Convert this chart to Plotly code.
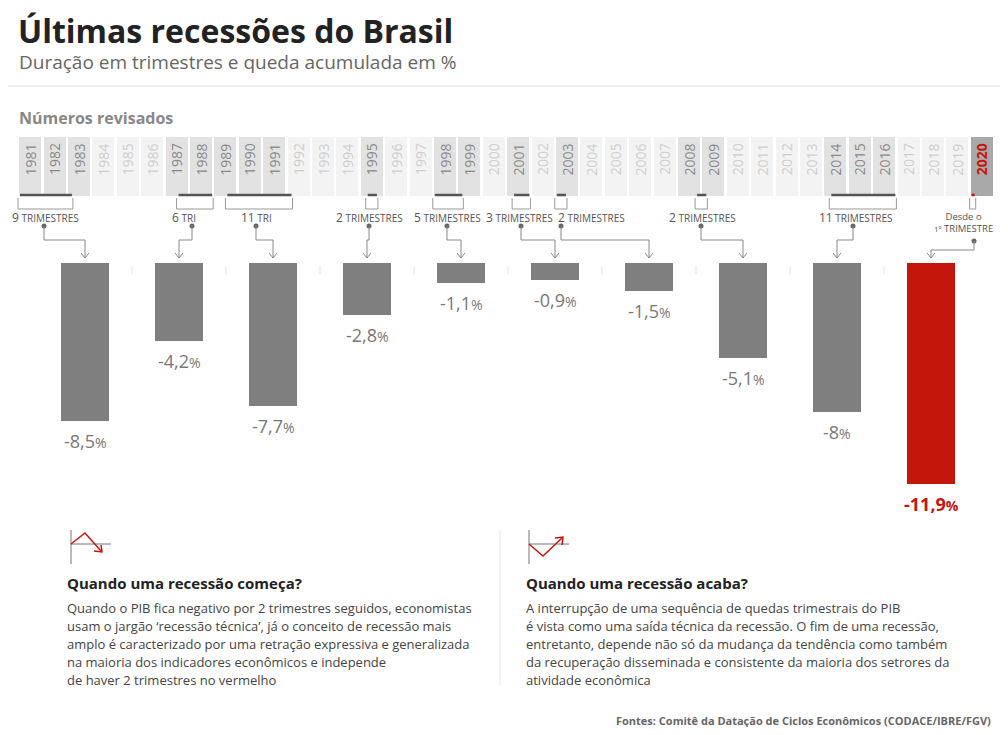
import plotly.graph_objects as go

W, H = 992, 719   # figure size; page adds 8px body margin
OFF = 8
years = list(range(1981, 2021))
recession_years = [1981,1982,1983,1987,1988,1989,1990,1991,1995,1998,1999,2001,2003,2008,2009,2014,2015,2016,2020]
values = [-8.5, -4.2, -7.7, -2.8, -1.1, -0.9, -1.5, -5.1, -8.0, -11.9]
value_labels = ["-8,5", "-4,2", "-7,7", "-2,8", "-1,1", "-0,9", "-1,5", "-5,1", "-8", "-11,9"]
rec_start = [1981.0, 1987.5, 1989.5, 1995.25, 1998.0, 2001.25, 2003.0, 2008.75, 2014.25, 2020.0]
rec_end = [1983.25, 1989.0, 1992.25, 1995.75, 1999.25, 2002.0, 2003.5, 2009.25, 2017.0, 2020.25]
dur_num = ["9", "6", "11", "2", "5", "3", "2", "2", "11", ""]
dur_word = ["TRIMESTRES", "TRI", "TRI", "TRIMESTRES", "TRIMESTRES", "TRIMESTRES", "TRIMESTRES", "TRIMESTRES", "TRIMESTRES", ""]

def px(x): return (x - OFF) / W
def py(y): return 1 - (y - OFF) / H

cell_w = 24.4; strip_x0 = 18
def year_px(yv): return strip_x0 + (yv - 1981) * cell_w
bar_c0, bar_step = 85, 94
pxpp = 18.6
base_y, bot_y = 263, 510

fig = go.Figure()
cols = []
for y in years:
    if y == 2020: cols.append("#a9a9a9")
    elif y in recession_years: cols.append("#e2e2e2")
    else: cols.append("#f3f3f3")
fig.add_trace(go.Bar(x=[y + 0.5 for y in years], y=[1]*len(years), marker=dict(color=cols, line=dict(width=0)),
                     width=0.9, xaxis="x3", yaxis="y3", hoverinfo="skip"))
fig.add_trace(go.Bar(x=list(range(len(values))), y=values, width=48/bar_step,
                     marker=dict(color=["#7f7f7f"]*9 + ["#c4170c"], line=dict(width=0)),
                     xaxis="x2", yaxis="y2", hoverinfo="skip"))

ann = []
shapes = []
def A(x, y, text, size, color, xanchor="center", bold=False, **kw):
    ann.append(dict(x=px(x), y=py(y), xref="paper", yref="paper", xanchor=xanchor, yanchor="middle",
                    showarrow=False, text=text,
                    font=dict(size=size, color=color, family="Open Sans", weight="bold" if bold else "normal"), **kw))

for y in years:
    c = "#c4170c" if y == 2020 else ("#8a8a8a" if y in recession_years else "#cfcfcf")
    ann.append(dict(x=y + 0.5, y=0.62, xref="x3", yref="y3", xanchor="center", yanchor="middle",
                    text=str(y), textangle=-90, showarrow=False,
                    font=dict(size=14, color=c, family="Open Sans", weight="bold" if y == 2020 else "normal")))
strip_top, strip_bot = 137, 196
for i, (s, e) in enumerate(zip(rec_start, rec_end)):
    col = "#c4170c" if i == 9 else "#555"
    shapes.append(dict(type="line", xref="paper", yref="paper", x0=px(year_px(s)+2), x1=px(year_px(e)-1),
                       y0=py(195), y1=py(195), line=dict(color=col, width=2.5)))
    shapes.append(dict(type="path", xref="paper", yref="paper",
                       path=f"M {px(year_px(s))} {py(198)} L {px(year_px(s))} {py(209)} L {px(year_px(e))} {py(209)} L {px(year_px(e))} {py(198)}",
                       line=dict(color="#999", width=1)))

label_x = [45, 184, 256, 369, 447, 519, 591, 702, 856, 963]
dot_x = [44, 192, 256, 369, 447, 521, 561, 701, 853, 974]
for i in range(10):
    bx = bar_c0 + bar_step * i
    if i < 9:
        A(label_x[i], 217, f"<span style='font-size:12px'>{dur_num[i]}</span> {dur_word[i]}", 10, "#555")
        dy, hy = 226, 240
    else:
        A(label_x[i], 222, "Desde o<br><span style='font-size:8px'>1º</span> TRIMESTRE", 9.5, "#555")
        dy, hy = 241, 250
    shapes.append(dict(type="circle", xref="paper", yref="paper", x0=px(dot_x[i]-2.5), x1=px(dot_x[i]+2.5),
                       y0=py(dy-2.5), y1=py(dy+2.5), fillcolor="#666", line=dict(width=0)))
    shapes.append(dict(type="path", xref="paper", yref="paper",
                       path=f"M {px(dot_x[i])} {py(dy)} L {px(dot_x[i])} {py(hy)} L {px(bx)} {py(hy)} L {px(bx)} {py(258)}",
                       line=dict(color="#888", width=1)))
    shapes.append(dict(type="path", xref="paper", yref="paper",
                       path=f"M {px(bx-4)} {py(253)} L {px(bx)} {py(258)} L {px(bx+4)} {py(253)}",
                       line=dict(color="#888", width=1)))
    if i < 9:
        mx = bx + bar_step / 2
        shapes.append(dict(type="line", xref="paper", yref="paper", x0=px(mx), x1=px(mx), y0=py(266), y1=py(274),
                           line=dict(color="#e5e5e5", width=1)))
    red = i == 9
    ann.append(dict(x=i, y=values[i], xref="x2", yref="y2", xanchor="center", yanchor="top", yshift=-6, showarrow=False,
                    text=f"{value_labels[i]}<span style='font-size:14px'>%</span>",
                    font=dict(size=18, color="#c4170c" if red else "#777", family="Open Sans",
                              weight="bold" if red else "normal")))

A(16, 30, "<b>Últimas recessões do Brasil</b>", 32, "#222", xanchor="left")
A(17, 62, "Duração em trimestres e queda acumulada em %", 19, "#666", xanchor="left")
A(17, 118, "<b>Números revisados</b>", 16, "#888", xanchor="left")
A(65, 583, "<b>Quando uma recessão começa?</b>", 15, "#222", xanchor="left")
A(524, 583, "<b>Quando uma recessão acaba?</b>", 15, "#222", xanchor="left")
A(993, 720, "<b>Fontes: Comitê da Datação de Ciclos Econômicos (CODACE/IBRE/FGV)</b>", 11, "#666", xanchor="right")

left_txt = ["Quando o PIB fica negativo por 2 trimestres seguidos, economistas",
            "usam o jargão ‘recessão técnica’, já o conceito de recessão mais",
            "amplo é caracterizado por uma retração expressiva e generalizada",
            "na maioria dos indicadores econômicos e independe",
            "de haver 2 trimestres no vermelho"]
right_txt = ["A interrupção de uma sequência de quedas trimestrais do PIB",
             "é vista como uma saída técnica da recessão. O fim de uma recessão,",
             "entretanto, depende não só da mudança da tendência como também",
             "da recuperação disseminada e consistente da maioria dos setrores da",
             "atividade econômica"]
for k, (lt, rt) in enumerate(zip(left_txt, right_txt)):
    A(65, 608 + 18 * k, lt, 13, "#444", xanchor="left")
    A(524, 608 + 18 * k, rt, 13, "#444", xanchor="left")

def L(x0, y0, x1, y1, color, w=1):
    shapes.append(dict(type="line", xref="paper", yref="paper", x0=px(x0), x1=px(x1), y0=py(y0), y1=py(y1),
                       line=dict(color=color, width=w)))
def P(pts, color, w=1.5):
    path = "M " + " L ".join(f"{px(a)} {py(b)}" for a, b in pts)
    shapes.append(dict(type="path", xref="paper", yref="paper", path=path, line=dict(color=color, width=w)))

L(OFF, 86, OFF + W, 86, "#e0e0e0")
L(500, 530, 500, 685, "#e5e5e5")
L(71, 530, 71, 564, "#777"); L(71, 544, 111, 544, "#777")
P([(71, 544), (85, 533), (101, 551)], "#c4170c"); P([(94, 551), (102, 552), (101, 545)], "#c4170c")
L(529, 530, 529, 564, "#777"); L(529, 544, 569, 544, "#777")
P([(529, 544), (543, 556), (562, 538)], "#c4170c"); P([(555, 538), (563, 537), (562, 545)], "#c4170c")

fig.update_layout(
    width=W, height=H, margin=dict(l=0, r=0, t=0, b=0), showlegend=False,
    paper_bgcolor="white", plot_bgcolor="white", annotations=ann, shapes=shapes, bargap=0,
    xaxis=dict(visible=False), yaxis=dict(visible=False),
    xaxis2=dict(visible=False, domain=[0, 1], anchor="y2",
                range=[-(bar_c0 - OFF) / bar_step, (OFF + W - bar_c0) / bar_step]),
    yaxis2=dict(visible=False, domain=[py(bot_y), py(base_y)], anchor="x2",
                range=[-(bot_y - base_y) / pxpp, 0]),
    xaxis3=dict(visible=False, domain=[0, 1], anchor="y3",
                range=[1981 - (strip_x0 - OFF) / cell_w, 1981 + (OFF + W - strip_x0) / cell_w]),
    yaxis3=dict(visible=False, domain=[py(strip_bot), py(strip_top)], anchor="x3", range=[0, 1]),
)
fig.write_html("out.html")
